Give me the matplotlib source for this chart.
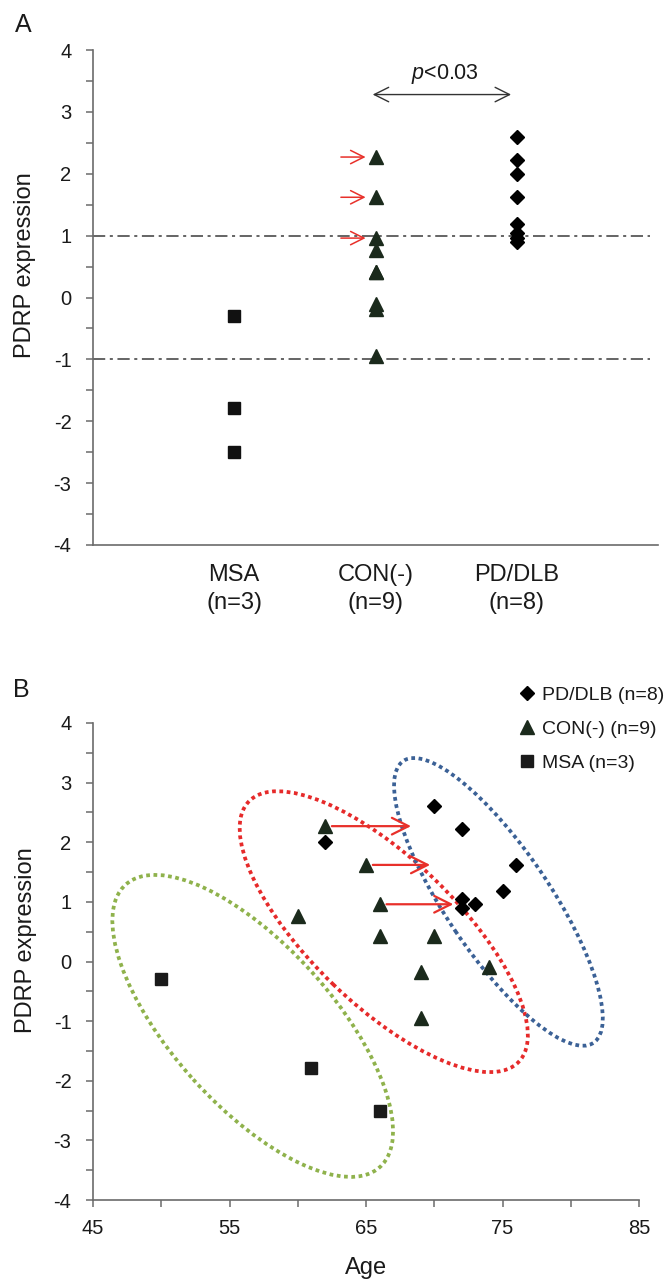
import matplotlib
matplotlib.use("Agg")
import numpy as np
import matplotlib.pyplot as plt
from matplotlib.patches import Ellipse
from matplotlib.transforms import ScaledTranslation
from matplotlib.ticker import MultipleLocator

plt.rcParams['font.family'] = ['Liberation Sans', 'DejaVu Sans']
plt.rcParams['mathtext.fontset'] = 'custom'
plt.rcParams['mathtext.rm'] = 'Liberation Sans'
plt.rcParams['mathtext.it'] = 'Liberation Sans:italic'
plt.rcParams['axes.unicode_minus'] = False

# data
groups = ['MSA', 'CON(-)', 'PD/DLB']
group_n = [3, 9, 8]
msa_age = [50, 61, 66]
msa_pdrp = [-0.30, -1.78, -2.50]
con_age = [62, 65, 66, 60, 66, 70, 69, 74, 69]
con_pdrp = [2.27, 1.62, 0.96, 0.77, 0.42, 0.42, -0.18, -0.10, -0.95]
pd_age = [62, 70, 72, 76, 75, 72, 73, 72]
pd_pdrp = [2.00, 2.60, 2.22, 1.62, 1.18, 1.04, 0.96, 0.90]
cutoffs = [1, -1]
p_text = '$p$<0.03'
# CON(-) subjects marked with red arrows, and the age the arrow points to in B
shift_idx = [0, 1, 2]
shift_to_age = [68.3, 69.7, 71.4]

# hand drawn ellipses in B (centre in data, size in inches, angle in deg)
ell_center = [(56.7, -1.08), (66.3, 0.50), (74.7, 1.00)]
ell_size = [(3.80, 1.60), (3.75, 1.46), (3.40, 1.04)]
ell_angle = [-48.0, -44.0, -56.0]
ell_color = ['#8fb24c', '#e62a2a', '#3b6196']

axis_col = '#6b6b6b'
txt_col = '#1a1a1a'
tri_col = '#1b2a1c'
red = '#e8302a'

fig = plt.figure(figsize=(6.64, 12.81), dpi=100)
axA = fig.add_axes([93/664, 1-545/1281, 565/664, 495/1281])
axB = fig.add_axes([93/664, 1-1200/1281, 546/664, 477/1281])


def style(ax):
    for s in ['top', 'right']:
        ax.spines[s].set_visible(False)
    for s in ['left', 'bottom']:
        ax.spines[s].set_color(axis_col)
        ax.spines[s].set_linewidth(1.2)
    ax.set_ylim(-4, 4)
    ax.yaxis.set_major_locator(MultipleLocator(1))
    ax.yaxis.set_minor_locator(MultipleLocator(0.5))
    ax.tick_params(axis='y', which='both', direction='out', length=5, width=1.1,
                   color=axis_col, labelsize=14.5, pad=10.5, labelcolor=txt_col)
    ax.set_ylabel('PDRP expression', fontsize=17, color=txt_col)


# ---- panel A
x = np.arange(1, len(groups) + 1)
axA.plot([x[0]] * len(msa_pdrp), msa_pdrp, 's', ms=9, color='#111111', zorder=3)
axA.plot([x[1]] * len(con_pdrp), con_pdrp, '^', ms=9.5, color=tri_col, zorder=3)
axA.plot([x[2]] * len(pd_pdrp), pd_pdrp, 'D', ms=7.5, color='#000000', zorder=3)
for c in cutoffs:
    axA.axhline(c, xmax=0.985, color='#3a3a3a', lw=1.1, ls=(0, (8, 3, 2, 3)))
style(axA)
axA.set_xlim(0, 4)
axA.set_xticks(x, [f'{g}\n(n={n})' for g, n in zip(groups, group_n)])
axA.tick_params(axis='x', length=0, pad=14, labelsize=17, labelcolor=txt_col)
for t in axA.get_xticklabels():
    t.set_linespacing(1.3)
axA.yaxis.set_label_coords(-0.10, 0.565)

axA.annotate('', xy=(x[1] - 0.02, 3.28), xytext=(x[2] - 0.04, 3.28),
             arrowprops=dict(arrowstyle='<->,head_length=0.8,head_width=0.4',
                             color='#333333', lw=1, mutation_scale=13,
                             shrinkA=0, shrinkB=0))
axA.text((x[1] + x[2]) / 2 - 0.01, 3.62, p_text, ha='center', va='center',
         fontsize=15.5, color=txt_col)
for i in shift_idx:
    axA.annotate('', xy=(x[1] - 0.07, con_pdrp[i]), xytext=(x[1] - 0.245, con_pdrp[i]),
                 arrowprops=dict(arrowstyle='->,head_length=0.8,head_width=0.4',
                                 color=red, lw=1.1, mutation_scale=12,
                                 shrinkA=0, shrinkB=0))

# ---- panel B
for (cx, cy), (w, h), a, col in zip(ell_center, ell_size, ell_angle, ell_color):
    tr = fig.dpi_scale_trans + ScaledTranslation(cx, cy, axB.transData)
    e = Ellipse((0, 0), w, h, angle=a, transform=tr, fill=False, ec=col,
                lw=2.7, ls=(0, (1, 0.95)), zorder=2)
    axB.add_patch(e)

hm, = axB.plot(msa_age, msa_pdrp, 's', ms=9, color='#1a1a1a', zorder=3,
               label=f'{groups[0]} (n={group_n[0]})')
hc, = axB.plot(con_age, con_pdrp, '^', ms=9.5, color=tri_col, zorder=3,
               label=f'{groups[1]} (n={group_n[1]})')
hp, = axB.plot(pd_age, pd_pdrp, 'D', ms=7.5, color='#000000', zorder=3,
               label=f'{groups[2]} (n={group_n[2]})')
for i, to in zip(shift_idx, shift_to_age):
    axB.annotate('', xy=(to, con_pdrp[i]), xytext=(con_age[i] + 0.5, con_pdrp[i]),
                 arrowprops=dict(arrowstyle='->,head_length=0.8,head_width=0.4',
                                 color=red, lw=1.6, mutation_scale=15,
                                 shrinkA=0, shrinkB=0), zorder=4)

style(axB)
axB.set_xlim(45, 85)
axB.set_xticks(np.arange(45, 86, 10))
axB.set_xticks(np.arange(50, 85, 10), minor=True)
axB.tick_params(axis='x', which='both', direction='out', length=5, width=1.1,
                color=axis_col, labelsize=14.5, pad=8.5, labelcolor=txt_col)
axB.set_xlabel('Age', fontsize=17, color=txt_col)
axB.xaxis.set_label_coords(0.5, -0.119)
axB.yaxis.set_label_coords(-0.103, 0.545)

fig.legend(handles=[hp, hc, hm], loc='upper left', bbox_to_anchor=(517/664, 1 - 686/1281),
           frameon=False, fontsize=14, handlelength=1.0, handletextpad=0.28,
           labelspacing=0.85, borderpad=0, borderaxespad=0, labelcolor=txt_col)

fig.text(23/664, 1 - 25/1281, 'A', fontsize=18, ha='center', va='center', color=txt_col)
fig.text(21/664, 1 - 690/1281, 'B', fontsize=18, ha='center', va='center', color=txt_col)

fig.savefig('out.png', dpi=100)
